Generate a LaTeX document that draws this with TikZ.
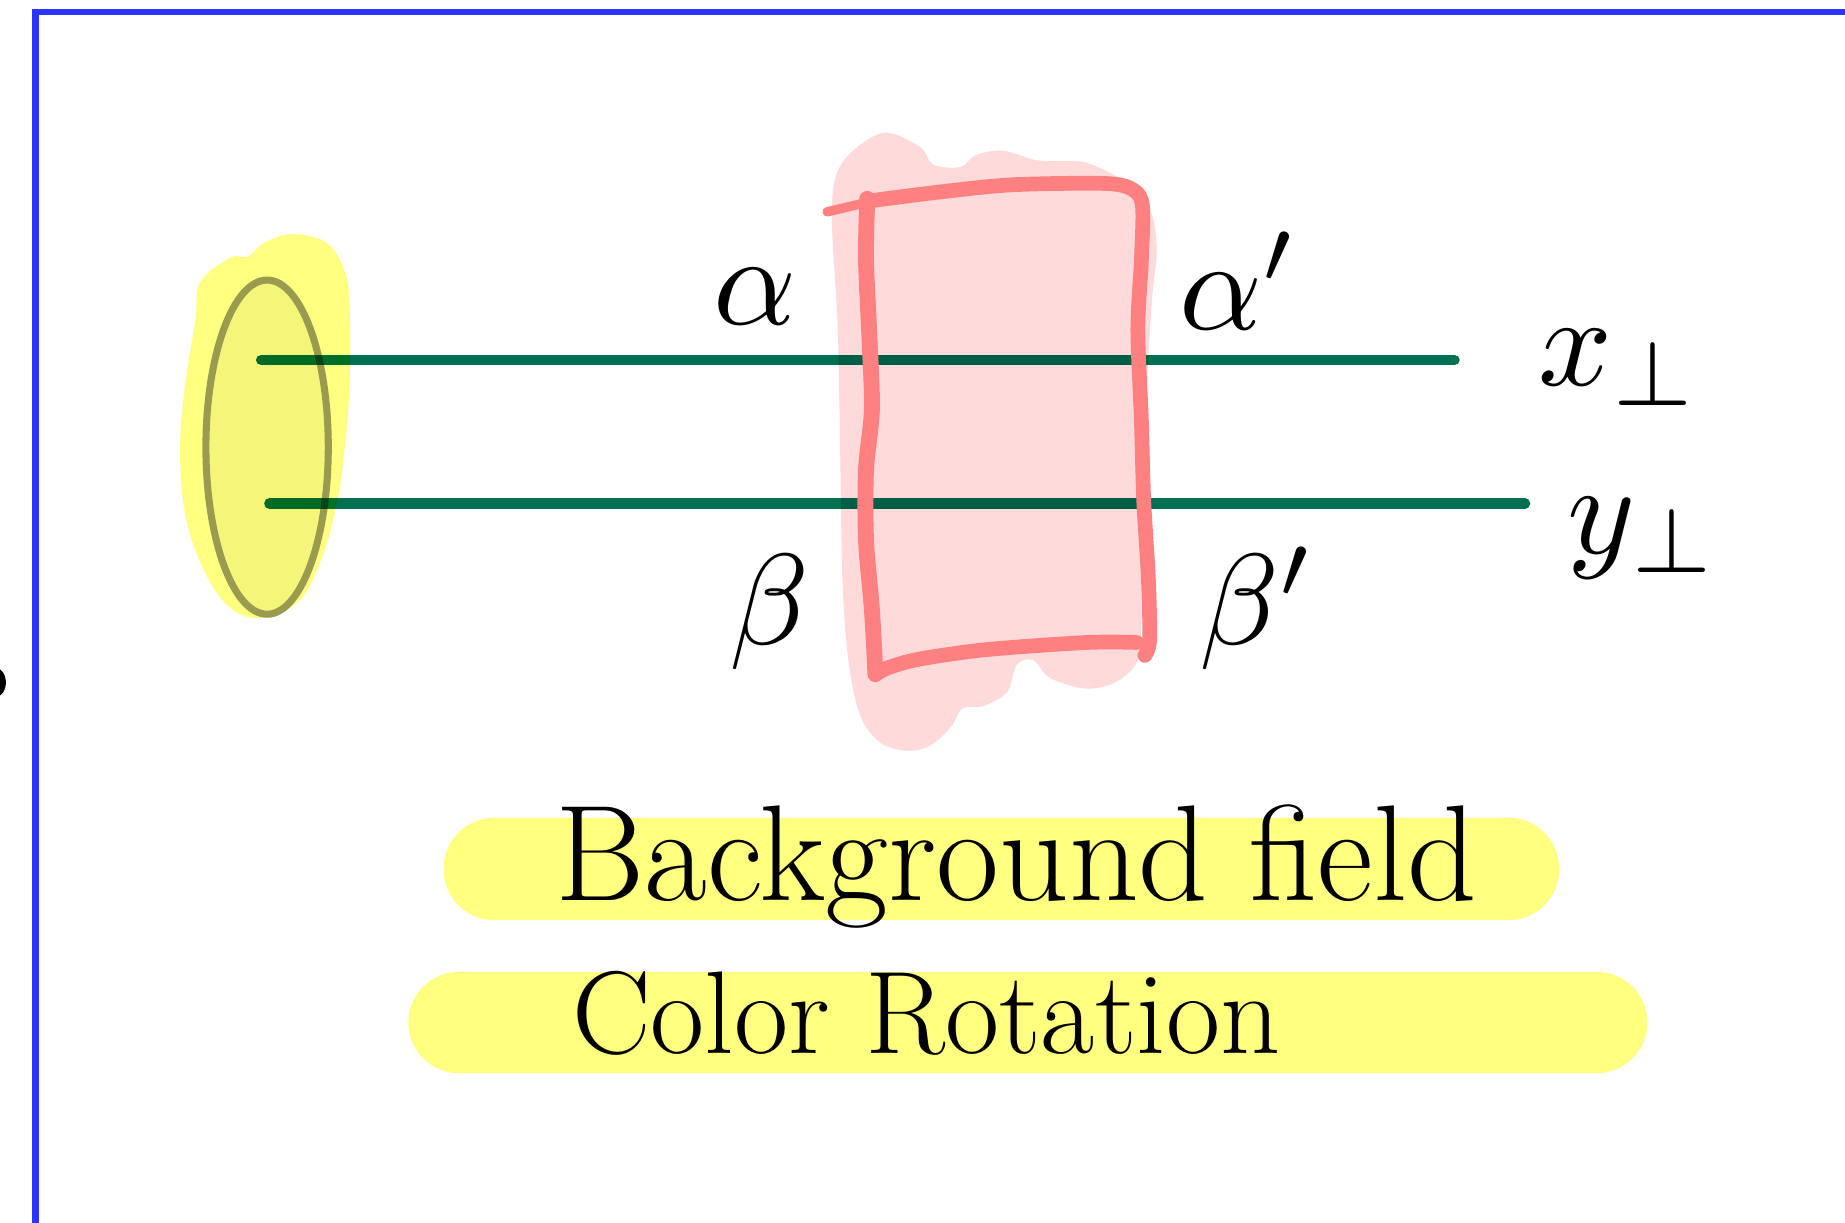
\documentclass[tikz,border=0pt]{standalone}
\definecolor{frameblue}{HTML}{2A35FF}
\definecolor{hlyellow}{HTML}{FFFF80}
\definecolor{ellfill}{HTML}{F5F57A}
\definecolor{ellline}{HTML}{9B9B4F}
\definecolor{wline}{HTML}{007050}
\definecolor{pinkfill}{HTML}{FFDADA}
\definecolor{pinkline}{HTML}{FF8080}
\begin{document}
\begin{tikzpicture}[x=1pt,y=-1pt,
  lbl/.style={inner sep=0pt, scale=11},
  caption/.style={inner sep=0pt, anchor=base west},
  wilson/.style={line width=9pt, wline, line cap=round},
  outline/.style={line width=12.5pt, pinkline, line cap=round, line join=round},
  bar/.style={hlyellow, rounded corners=43pt}]
\useasboundingbox (0,0) rectangle (1568,1039);
\fill[white] (0,0) rectangle (1568,1039);
% frame
\draw[frameblue, line width=5.5pt] (30,1060) -- (30,10) -- (1600,10);
\fill[black] (-4,580) ellipse [x radius=9, y radius=12.5];
% yellow highlight blob and ellipse (target)
\fill[hlyellow] plot[smooth cycle, tension=0.6] coordinates {(166,272) (170,240) (196,219) (211,218) (225,206) (249,199) (277,206) (292,228) (297,258) (297,330) (292,390) (286,428) (275,470) (255,510) (221,525) (195,516) (174,486) (158,440) (153,385) (157,330)};
\draw[ellline, fill=ellfill, line width=6pt] (227,380) ellipse [x radius=52, y radius=142];
% Wilson lines
\begin{scope}[blend mode=multiply]
\coordinate (xs) at (222,306);
\coordinate (xe) at (1236,306);
\coordinate (ys) at (229,428);
\coordinate (ye) at (1296,428);
\draw[wilson] (xs) -- (xe);
\draw[wilson] (ys) -- (ye);
% pink shock wave blob
\fill[pinkfill] plot[smooth cycle, tension=0.55] coordinates {(712,280) (707,178) (716,138) (750,113) (782,125) (793,140) (816,142) (829,132) (852,128) (880,136) (901,137) (922,138) (952,152) (977,178) (983,212) (979,255) (974,340) (971,425) (970,510) (969,552) (962,569) (943,582) (920,585) (892,576) (878,561) (864,565) (856,588) (836,600) (818,602) (808,618) (790,634) (770,638) (748,631) (731,608) (721,561) (716,493) (714,382)};
\end{scope}
% pink outline
\draw[outline, line width=8pt] (703,180) -- (737,172);
\draw[outline] plot[smooth, tension=0.5] coordinates {(737,171) (800,163) (861,157) (941,156) (964,162) (971,176) (970,221) (967,280) (970,357) (972,425) (976,493) (977,544) (973,557)};
\draw[outline, line width=13.5pt] plot[smooth, tension=0.5] coordinates {(737,169) (736,221) (739,289) (741,348) (736,399) (736,459) (741,518) (744,573)};
\draw[outline] plot[smooth, tension=0.5] coordinates {(744,573) (756,567) (782,560) (839,552) (924,546) (966,546)};
% labels
\node[lbl, anchor=base west] (alpha) at (604,276) {$\alpha$};
\node[lbl, anchor=base west] (alphap) at (1000,280) {$\alpha'$};
\node[lbl, anchor=base west] (beta) at (618,548) {$\beta$};
\node[lbl, anchor=base west] (betap) at (1017,548) {$\beta'$};
\node[lbl, anchor=base west] (xperp) at (1305,328) {$x_\perp$};
\node[lbl, anchor=base west] (yperp) at (1330,470) {$y_\perp$};
% caption highlights
\fill[bar] (377,695) rectangle (1325,782);
\fill[bar] (347,826) rectangle (1400,912);
\node[caption, font=\fontsize{116}{130}\selectfont] (bg) at (472,765) {Background field};
\node[caption, font=\fontsize{100}{120}\selectfont] (cr) at (486,895) {Color Rotation};
\end{tikzpicture}
\end{document}
